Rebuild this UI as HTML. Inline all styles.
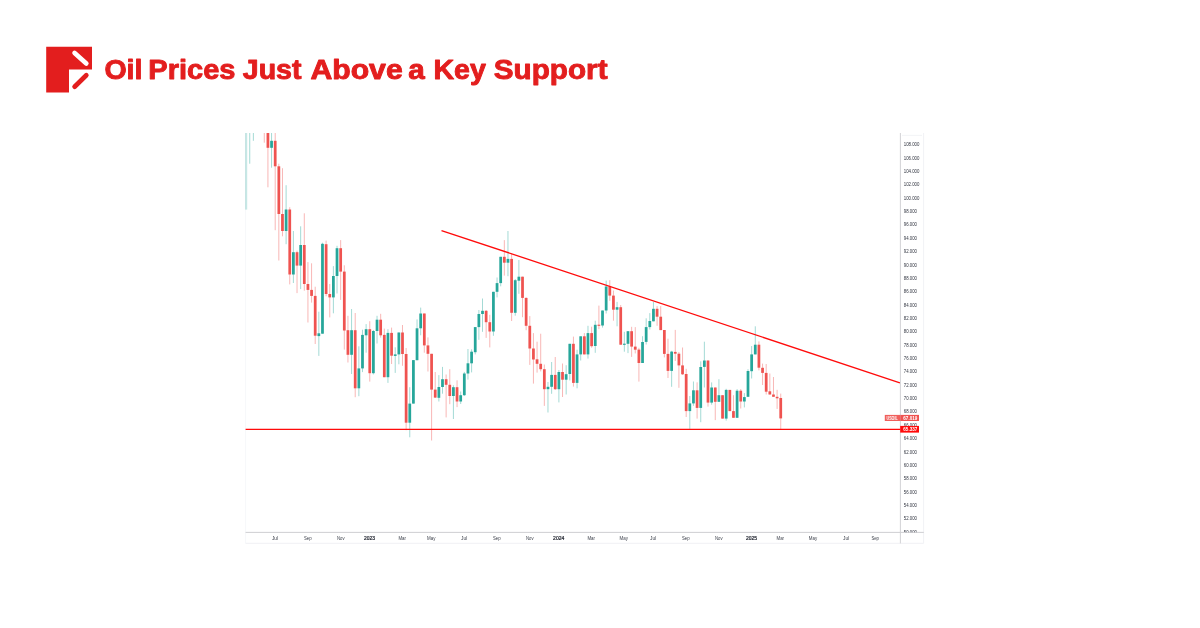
<!DOCTYPE html>
<html lang="en">
<head>
<meta charset="utf-8">
<title>Oil Prices Just Above a Key Support</title>
<style>
html,body{margin:0;padding:0;background:#fff;}
body{width:1200px;height:628px;overflow:hidden;position:relative;font-family:"Liberation Sans",sans-serif;}
svg{position:absolute;left:0;top:0;display:block;will-change:transform;}
text{-webkit-font-smoothing:antialiased;}
</style>
</head>
<body>
<svg width="1200" height="628" viewBox="0 0 1200 628">
<rect width="1200" height="628" fill="#ffffff"/>
<!-- logo -->
<g id="logo">
<path d="M46.2 46.7H92V69.6H69V92.4H46.2Z" fill="#e31e1e"/>
<line x1="74.6" y1="52.9" x2="86.3" y2="63.4" stroke="#ffffff" stroke-width="4.7" stroke-linecap="round"/>
<line x1="74.6" y1="86.7" x2="86.3" y2="75.2" stroke="#e31e1e" stroke-width="4.7" stroke-linecap="round"/>
</g>
<!-- title -->
<g id="title" font-family="'Liberation Sans',sans-serif" font-weight="700" font-size="27.3" fill="#e31e1e" stroke="#e31e1e" stroke-width="0.9" stroke-linejoin="round">
<text x="104.4" y="78.95" textLength="38.06" lengthAdjust="spacingAndGlyphs">Oil</text>
<text x="148.3" y="78.95" textLength="87.19" lengthAdjust="spacingAndGlyphs">Prices</text>
<text x="242.76" y="78.95" textLength="58.74" lengthAdjust="spacingAndGlyphs">Just</text>
<text x="310.4" y="78.95" textLength="92.35" lengthAdjust="spacingAndGlyphs">Above</text>
<text x="408.18" y="78.95" textLength="16.51" lengthAdjust="spacingAndGlyphs">a</text>
<text x="433.4" y="78.95" textLength="52.45" lengthAdjust="spacingAndGlyphs">Key</text>
<text x="493.82" y="78.95" textLength="113.74" lengthAdjust="spacingAndGlyphs">Support</text>
</g>
<!-- chart frame -->
<g id="frame" fill="none">
<line x1="245.6" y1="133" x2="245.6" y2="543.4" stroke="#f4f5f7" stroke-width="0.8"/>
<line x1="245.6" y1="543.3" x2="923.6" y2="543.3" stroke="#f0f1f4" stroke-width="1"/>
<line x1="923.6" y1="133" x2="923.6" y2="543.4" stroke="#f1f2f5" stroke-width="1"/>
<line x1="902" y1="135.4" x2="922" y2="135.4" stroke="#f0f1f4" stroke-width="0.8"/>
<line x1="245.6" y1="532.4" x2="923.8" y2="532.4" stroke="#c9c9cd" stroke-width="0.9"/>
<line x1="900.4" y1="133" x2="900.4" y2="543.4" stroke="#cdcdd0" stroke-width="0.9"/>
</g>
<!-- candles -->
<g id="candles">
<rect x="245.1" y="133" width="2.1" height="76.6" fill="#26a69a" opacity="0.26"/>
<rect x="249.24" y="133" width="1.0" height="30.7" fill="#26a69a" opacity="0.42"/>
<rect x="252.87" y="133" width="1.0" height="7.8" fill="#26a69a" opacity="0.42"/>
<rect x="263.78" y="133" width="1.0" height="9.7" fill="#ef5350" opacity="0.42"/>
<rect x="267.42" y="133.0" width="1.0" height="54.3" fill="#ef5350" opacity="0.42"/>
<rect x="266.55" y="133.0" width="2.75" height="14.8" fill="#ef5350"/>
<rect x="271.06" y="133.0" width="1.0" height="34.7" fill="#26a69a" opacity="0.42"/>
<rect x="270.18" y="140.8" width="2.75" height="7.0" fill="#26a69a"/>
<rect x="274.70" y="133.0" width="1.0" height="97.2" fill="#ef5350" opacity="0.42"/>
<rect x="273.82" y="140.8" width="2.75" height="25.5" fill="#ef5350"/>
<rect x="278.33" y="163.7" width="1.0" height="96.8" fill="#ef5350" opacity="0.42"/>
<rect x="277.46" y="166.3" width="2.75" height="47.7" fill="#ef5350"/>
<rect x="281.97" y="168.2" width="1.0" height="68.1" fill="#ef5350" opacity="0.42"/>
<rect x="281.09" y="214.0" width="2.75" height="17.0" fill="#ef5350"/>
<rect x="285.61" y="185.2" width="1.0" height="59.0" fill="#26a69a" opacity="0.42"/>
<rect x="284.73" y="209.5" width="2.75" height="21.5" fill="#26a69a"/>
<rect x="289.24" y="207.2" width="1.0" height="77.2" fill="#ef5350" opacity="0.42"/>
<rect x="288.37" y="209.5" width="2.75" height="65.0" fill="#ef5350"/>
<rect x="292.88" y="231.0" width="1.0" height="52.0" fill="#26a69a" opacity="0.42"/>
<rect x="292.01" y="252.2" width="2.75" height="22.3" fill="#26a69a"/>
<rect x="296.52" y="250.6" width="1.0" height="42.5" fill="#ef5350" opacity="0.42"/>
<rect x="295.64" y="252.2" width="2.75" height="13.4" fill="#ef5350"/>
<rect x="300.15" y="226.3" width="1.0" height="62.8" fill="#26a69a" opacity="0.42"/>
<rect x="299.28" y="245.0" width="2.75" height="20.6" fill="#26a69a"/>
<rect x="303.79" y="213.3" width="1.0" height="77.4" fill="#ef5350" opacity="0.42"/>
<rect x="302.92" y="245.0" width="2.75" height="39.0" fill="#ef5350"/>
<rect x="307.43" y="262.1" width="1.0" height="60.4" fill="#ef5350" opacity="0.42"/>
<rect x="306.55" y="284.0" width="2.75" height="5.9" fill="#ef5350"/>
<rect x="311.07" y="263.3" width="1.0" height="39.3" fill="#ef5350" opacity="0.42"/>
<rect x="310.19" y="289.9" width="2.75" height="6.0" fill="#ef5350"/>
<rect x="314.70" y="286.7" width="1.0" height="57.3" fill="#ef5350" opacity="0.42"/>
<rect x="313.83" y="295.9" width="2.75" height="39.8" fill="#ef5350"/>
<rect x="318.34" y="311.7" width="1.0" height="44.2" fill="#26a69a" opacity="0.42"/>
<rect x="317.46" y="333.3" width="2.75" height="2.8" fill="#26a69a"/>
<rect x="321.98" y="242.7" width="1.0" height="91.0" fill="#26a69a" opacity="0.42"/>
<rect x="321.10" y="243.8" width="2.75" height="89.9" fill="#26a69a"/>
<rect x="325.61" y="240.6" width="1.0" height="55.7" fill="#ef5350" opacity="0.42"/>
<rect x="324.74" y="244.2" width="2.75" height="49.8" fill="#ef5350"/>
<rect x="329.25" y="284.0" width="1.0" height="33.4" fill="#ef5350" opacity="0.42"/>
<rect x="328.38" y="294.0" width="2.75" height="3.4" fill="#ef5350"/>
<rect x="332.89" y="266.1" width="1.0" height="47.2" fill="#26a69a" opacity="0.42"/>
<rect x="332.01" y="276.0" width="2.75" height="21.4" fill="#26a69a"/>
<rect x="336.52" y="245.8" width="1.0" height="47.7" fill="#26a69a" opacity="0.42"/>
<rect x="335.65" y="248.2" width="2.75" height="27.8" fill="#26a69a"/>
<rect x="340.16" y="240.1" width="1.0" height="59.8" fill="#ef5350" opacity="0.42"/>
<rect x="339.29" y="248.2" width="2.75" height="23.4" fill="#ef5350"/>
<rect x="343.80" y="265.3" width="1.0" height="84.3" fill="#ef5350" opacity="0.42"/>
<rect x="342.92" y="271.6" width="2.75" height="58.9" fill="#ef5350"/>
<rect x="347.44" y="315.8" width="1.0" height="46.7" fill="#ef5350" opacity="0.42"/>
<rect x="346.56" y="330.2" width="2.75" height="24.6" fill="#ef5350"/>
<rect x="351.07" y="309.0" width="1.0" height="65.0" fill="#26a69a" opacity="0.42"/>
<rect x="350.20" y="330.2" width="2.75" height="24.6" fill="#26a69a"/>
<rect x="354.71" y="313.0" width="1.0" height="84.2" fill="#ef5350" opacity="0.42"/>
<rect x="353.83" y="330.2" width="2.75" height="58.1" fill="#ef5350"/>
<rect x="358.35" y="346.3" width="1.0" height="49.9" fill="#26a69a" opacity="0.42"/>
<rect x="357.47" y="368.4" width="2.75" height="19.9" fill="#26a69a"/>
<rect x="361.98" y="329.7" width="1.0" height="42.4" fill="#26a69a" opacity="0.42"/>
<rect x="361.11" y="334.9" width="2.75" height="33.5" fill="#26a69a"/>
<rect x="365.62" y="324.1" width="1.0" height="28.6" fill="#26a69a" opacity="0.42"/>
<rect x="364.75" y="329.2" width="2.75" height="6.1" fill="#26a69a"/>
<rect x="369.26" y="321.2" width="1.0" height="60.4" fill="#ef5350" opacity="0.42"/>
<rect x="368.38" y="329.2" width="2.75" height="44.0" fill="#ef5350"/>
<rect x="372.89" y="330.0" width="1.0" height="44.4" fill="#26a69a" opacity="0.42"/>
<rect x="372.02" y="331.0" width="2.75" height="42.2" fill="#26a69a"/>
<rect x="376.53" y="315.8" width="1.0" height="27.7" fill="#26a69a" opacity="0.42"/>
<rect x="375.66" y="319.7" width="2.75" height="11.3" fill="#26a69a"/>
<rect x="380.17" y="313.8" width="1.0" height="23.8" fill="#ef5350" opacity="0.42"/>
<rect x="379.29" y="319.7" width="2.75" height="15.6" fill="#ef5350"/>
<rect x="383.81" y="328.6" width="1.0" height="48.6" fill="#ef5350" opacity="0.42"/>
<rect x="382.93" y="334.9" width="2.75" height="42.3" fill="#ef5350"/>
<rect x="387.44" y="329.2" width="1.0" height="53.7" fill="#26a69a" opacity="0.42"/>
<rect x="386.57" y="332.9" width="2.75" height="44.3" fill="#26a69a"/>
<rect x="391.08" y="327.6" width="1.0" height="36.4" fill="#ef5350" opacity="0.42"/>
<rect x="390.20" y="332.9" width="2.75" height="22.8" fill="#ef5350"/>
<rect x="394.72" y="347.3" width="1.0" height="25.6" fill="#26a69a" opacity="0.42"/>
<rect x="393.84" y="354.4" width="2.75" height="1.5" fill="#26a69a"/>
<rect x="398.35" y="332.5" width="1.0" height="31.8" fill="#26a69a" opacity="0.42"/>
<rect x="397.48" y="332.5" width="2.75" height="21.9" fill="#26a69a"/>
<rect x="401.99" y="325.0" width="1.0" height="40.8" fill="#ef5350" opacity="0.42"/>
<rect x="401.12" y="332.5" width="2.75" height="21.5" fill="#ef5350"/>
<rect x="405.63" y="348.0" width="1.0" height="82.2" fill="#ef5350" opacity="0.42"/>
<rect x="404.75" y="354.0" width="2.75" height="68.7" fill="#ef5350"/>
<rect x="409.26" y="387.2" width="1.0" height="50.1" fill="#26a69a" opacity="0.42"/>
<rect x="408.39" y="403.6" width="2.75" height="19.1" fill="#26a69a"/>
<rect x="412.90" y="360.1" width="1.0" height="43.5" fill="#26a69a" opacity="0.42"/>
<rect x="412.03" y="360.1" width="2.75" height="43.5" fill="#26a69a"/>
<rect x="416.54" y="319.4" width="1.0" height="40.8" fill="#26a69a" opacity="0.42"/>
<rect x="415.66" y="328.3" width="2.75" height="31.9" fill="#26a69a"/>
<rect x="420.18" y="307.6" width="1.0" height="27.7" fill="#26a69a" opacity="0.42"/>
<rect x="419.30" y="313.5" width="2.75" height="14.8" fill="#26a69a"/>
<rect x="423.81" y="313.5" width="1.0" height="39.2" fill="#ef5350" opacity="0.42"/>
<rect x="422.94" y="313.5" width="2.75" height="31.9" fill="#ef5350"/>
<rect x="427.45" y="337.4" width="1.0" height="34.1" fill="#ef5350" opacity="0.42"/>
<rect x="426.57" y="345.4" width="2.75" height="8.4" fill="#ef5350"/>
<rect x="431.09" y="353.8" width="1.0" height="86.7" fill="#ef5350" opacity="0.42"/>
<rect x="430.21" y="353.8" width="2.75" height="35.8" fill="#ef5350"/>
<rect x="434.72" y="372.0" width="1.0" height="26.0" fill="#ef5350" opacity="0.42"/>
<rect x="433.85" y="389.6" width="2.75" height="8.0" fill="#ef5350"/>
<rect x="438.36" y="375.1" width="1.0" height="26.4" fill="#26a69a" opacity="0.42"/>
<rect x="437.49" y="387.0" width="2.75" height="10.8" fill="#26a69a"/>
<rect x="442.00" y="366.9" width="1.0" height="26.8" fill="#26a69a" opacity="0.42"/>
<rect x="441.12" y="379.2" width="2.75" height="7.8" fill="#26a69a"/>
<rect x="445.63" y="374.5" width="1.0" height="42.9" fill="#ef5350" opacity="0.42"/>
<rect x="444.76" y="379.2" width="2.75" height="5.6" fill="#ef5350"/>
<rect x="449.27" y="369.2" width="1.0" height="35.0" fill="#ef5350" opacity="0.42"/>
<rect x="448.40" y="384.8" width="2.75" height="11.2" fill="#ef5350"/>
<rect x="452.91" y="385.3" width="1.0" height="33.7" fill="#26a69a" opacity="0.42"/>
<rect x="452.03" y="387.2" width="2.75" height="8.8" fill="#26a69a"/>
<rect x="456.55" y="380.3" width="1.0" height="26.8" fill="#ef5350" opacity="0.42"/>
<rect x="455.67" y="387.2" width="2.75" height="14.3" fill="#ef5350"/>
<rect x="460.18" y="391.5" width="1.0" height="12.5" fill="#26a69a" opacity="0.42"/>
<rect x="459.31" y="395.2" width="2.75" height="6.3" fill="#26a69a"/>
<rect x="463.82" y="371.9" width="1.0" height="24.1" fill="#26a69a" opacity="0.42"/>
<rect x="462.94" y="373.5" width="2.75" height="21.7" fill="#26a69a"/>
<rect x="467.46" y="349.0" width="1.0" height="30.6" fill="#26a69a" opacity="0.42"/>
<rect x="466.58" y="363.3" width="2.75" height="10.2" fill="#26a69a"/>
<rect x="471.09" y="349.3" width="1.0" height="23.1" fill="#26a69a" opacity="0.42"/>
<rect x="470.22" y="351.7" width="2.75" height="11.6" fill="#26a69a"/>
<rect x="474.73" y="327.1" width="1.0" height="27.3" fill="#26a69a" opacity="0.42"/>
<rect x="473.86" y="327.1" width="2.75" height="25.1" fill="#26a69a"/>
<rect x="478.37" y="310.0" width="1.0" height="29.8" fill="#26a69a" opacity="0.42"/>
<rect x="477.49" y="314.0" width="2.75" height="13.1" fill="#26a69a"/>
<rect x="482.00" y="298.5" width="1.0" height="33.3" fill="#26a69a" opacity="0.42"/>
<rect x="481.13" y="310.8" width="2.75" height="3.2" fill="#26a69a"/>
<rect x="485.64" y="310.0" width="1.0" height="27.9" fill="#ef5350" opacity="0.42"/>
<rect x="484.77" y="310.8" width="2.75" height="11.4" fill="#ef5350"/>
<rect x="489.28" y="314.8" width="1.0" height="32.6" fill="#ef5350" opacity="0.42"/>
<rect x="488.40" y="322.2" width="2.75" height="9.3" fill="#ef5350"/>
<rect x="492.92" y="291.8" width="1.0" height="44.0" fill="#26a69a" opacity="0.42"/>
<rect x="492.04" y="291.8" width="2.75" height="39.7" fill="#26a69a"/>
<rect x="496.55" y="277.5" width="1.0" height="19.9" fill="#26a69a" opacity="0.42"/>
<rect x="495.68" y="283.1" width="2.75" height="8.7" fill="#26a69a"/>
<rect x="500.19" y="256.8" width="1.0" height="29.5" fill="#26a69a" opacity="0.42"/>
<rect x="499.31" y="256.8" width="2.75" height="26.3" fill="#26a69a"/>
<rect x="503.83" y="240.1" width="1.0" height="35.5" fill="#ef5350" opacity="0.42"/>
<rect x="502.95" y="256.8" width="2.75" height="5.9" fill="#ef5350"/>
<rect x="507.46" y="231.0" width="1.0" height="45.2" fill="#26a69a" opacity="0.42"/>
<rect x="506.59" y="258.9" width="2.75" height="3.8" fill="#26a69a"/>
<rect x="511.10" y="253.3" width="1.0" height="67.7" fill="#ef5350" opacity="0.42"/>
<rect x="510.23" y="258.9" width="2.75" height="53.9" fill="#ef5350"/>
<rect x="514.74" y="279.0" width="1.0" height="36.7" fill="#26a69a" opacity="0.42"/>
<rect x="513.86" y="280.2" width="2.75" height="32.6" fill="#26a69a"/>
<rect x="518.38" y="260.0" width="1.0" height="33.8" fill="#26a69a" opacity="0.42"/>
<rect x="517.50" y="276.7" width="2.75" height="4.0" fill="#26a69a"/>
<rect x="522.01" y="276.7" width="1.0" height="40.5" fill="#ef5350" opacity="0.42"/>
<rect x="521.14" y="276.7" width="2.75" height="21.2" fill="#ef5350"/>
<rect x="525.65" y="297.4" width="1.0" height="32.8" fill="#ef5350" opacity="0.42"/>
<rect x="524.77" y="297.9" width="2.75" height="27.9" fill="#ef5350"/>
<rect x="529.29" y="316.1" width="1.0" height="48.8" fill="#ef5350" opacity="0.42"/>
<rect x="528.41" y="325.8" width="2.75" height="22.7" fill="#ef5350"/>
<rect x="532.92" y="333.1" width="1.0" height="50.5" fill="#ef5350" opacity="0.42"/>
<rect x="532.05" y="348.5" width="2.75" height="11.0" fill="#ef5350"/>
<rect x="536.56" y="341.7" width="1.0" height="30.9" fill="#ef5350" opacity="0.42"/>
<rect x="535.68" y="359.3" width="2.75" height="4.5" fill="#ef5350"/>
<rect x="540.20" y="333.7" width="1.0" height="37.7" fill="#ef5350" opacity="0.42"/>
<rect x="539.32" y="363.8" width="2.75" height="5.4" fill="#ef5350"/>
<rect x="543.83" y="364.5" width="1.0" height="41.4" fill="#ef5350" opacity="0.42"/>
<rect x="542.96" y="369.2" width="2.75" height="20.0" fill="#ef5350"/>
<rect x="547.47" y="382.0" width="1.0" height="30.5" fill="#26a69a" opacity="0.42"/>
<rect x="546.60" y="386.8" width="2.75" height="2.4" fill="#26a69a"/>
<rect x="551.11" y="362.0" width="1.0" height="31.8" fill="#26a69a" opacity="0.42"/>
<rect x="550.23" y="374.9" width="2.75" height="11.9" fill="#26a69a"/>
<rect x="554.75" y="357.0" width="1.0" height="33.0" fill="#ef5350" opacity="0.42"/>
<rect x="553.87" y="374.9" width="2.75" height="14.3" fill="#ef5350"/>
<rect x="558.38" y="370.0" width="1.0" height="32.4" fill="#26a69a" opacity="0.42"/>
<rect x="557.51" y="372.0" width="2.75" height="17.2" fill="#26a69a"/>
<rect x="562.02" y="363.5" width="1.0" height="33.5" fill="#ef5350" opacity="0.42"/>
<rect x="561.14" y="372.0" width="2.75" height="7.7" fill="#ef5350"/>
<rect x="565.66" y="365.2" width="1.0" height="29.3" fill="#26a69a" opacity="0.42"/>
<rect x="564.78" y="374.2" width="2.75" height="5.5" fill="#26a69a"/>
<rect x="569.29" y="343.8" width="1.0" height="36.6" fill="#26a69a" opacity="0.42"/>
<rect x="568.42" y="343.8" width="2.75" height="30.2" fill="#26a69a"/>
<rect x="572.93" y="336.6" width="1.0" height="50.0" fill="#ef5350" opacity="0.42"/>
<rect x="572.05" y="343.8" width="2.75" height="39.1" fill="#ef5350"/>
<rect x="576.57" y="349.7" width="1.0" height="38.6" fill="#26a69a" opacity="0.42"/>
<rect x="575.69" y="354.4" width="2.75" height="28.5" fill="#26a69a"/>
<rect x="580.20" y="336.3" width="1.0" height="24.2" fill="#26a69a" opacity="0.42"/>
<rect x="579.33" y="336.3" width="2.75" height="18.1" fill="#26a69a"/>
<rect x="583.84" y="333.1" width="1.0" height="21.3" fill="#ef5350" opacity="0.42"/>
<rect x="582.97" y="336.3" width="2.75" height="18.1" fill="#ef5350"/>
<rect x="587.48" y="325.8" width="1.0" height="32.8" fill="#26a69a" opacity="0.42"/>
<rect x="586.60" y="333.1" width="2.75" height="21.3" fill="#26a69a"/>
<rect x="591.12" y="326.7" width="1.0" height="21.0" fill="#ef5350" opacity="0.42"/>
<rect x="590.24" y="333.1" width="2.75" height="13.1" fill="#ef5350"/>
<rect x="594.75" y="320.7" width="1.0" height="32.1" fill="#26a69a" opacity="0.42"/>
<rect x="593.88" y="324.8" width="2.75" height="21.2" fill="#26a69a"/>
<rect x="598.39" y="305.6" width="1.0" height="23.6" fill="#ef5350" opacity="0.42"/>
<rect x="597.51" y="324.7" width="2.75" height="1.1" fill="#ef5350"/>
<rect x="602.03" y="310.5" width="1.0" height="17.1" fill="#26a69a" opacity="0.42"/>
<rect x="601.15" y="310.5" width="2.75" height="15.0" fill="#26a69a"/>
<rect x="605.66" y="280.6" width="1.0" height="32.9" fill="#26a69a" opacity="0.42"/>
<rect x="604.79" y="286.5" width="2.75" height="24.0" fill="#26a69a"/>
<rect x="609.30" y="280.1" width="1.0" height="20.7" fill="#ef5350" opacity="0.42"/>
<rect x="608.42" y="286.5" width="2.75" height="9.1" fill="#ef5350"/>
<rect x="612.94" y="290.5" width="1.0" height="30.2" fill="#ef5350" opacity="0.42"/>
<rect x="612.06" y="295.6" width="2.75" height="14.1" fill="#ef5350"/>
<rect x="616.57" y="301.9" width="1.0" height="24.4" fill="#26a69a" opacity="0.42"/>
<rect x="615.70" y="307.2" width="2.75" height="2.5" fill="#26a69a"/>
<rect x="620.21" y="305.0" width="1.0" height="39.7" fill="#ef5350" opacity="0.42"/>
<rect x="619.34" y="307.2" width="2.75" height="37.5" fill="#ef5350"/>
<rect x="623.85" y="331.8" width="1.0" height="19.9" fill="#26a69a" opacity="0.42"/>
<rect x="622.97" y="343.7" width="2.75" height="1.1" fill="#26a69a"/>
<rect x="627.49" y="331.2" width="1.0" height="21.9" fill="#26a69a" opacity="0.42"/>
<rect x="626.61" y="331.2" width="2.75" height="12.6" fill="#26a69a"/>
<rect x="631.12" y="326.8" width="1.0" height="30.1" fill="#ef5350" opacity="0.42"/>
<rect x="630.25" y="331.2" width="2.75" height="15.4" fill="#ef5350"/>
<rect x="634.76" y="327.1" width="1.0" height="26.3" fill="#ef5350" opacity="0.42"/>
<rect x="633.88" y="346.6" width="2.75" height="3.1" fill="#ef5350"/>
<rect x="638.40" y="347.8" width="1.0" height="33.8" fill="#ef5350" opacity="0.42"/>
<rect x="637.52" y="349.6" width="2.75" height="13.4" fill="#ef5350"/>
<rect x="642.03" y="336.2" width="1.0" height="26.8" fill="#26a69a" opacity="0.42"/>
<rect x="641.16" y="342.0" width="2.75" height="21.0" fill="#26a69a"/>
<rect x="645.67" y="318.3" width="1.0" height="26.2" fill="#26a69a" opacity="0.42"/>
<rect x="644.79" y="327.1" width="2.75" height="14.8" fill="#26a69a"/>
<rect x="649.31" y="313.1" width="1.0" height="16.4" fill="#26a69a" opacity="0.42"/>
<rect x="648.43" y="321.0" width="2.75" height="6.1" fill="#26a69a"/>
<rect x="652.94" y="301.9" width="1.0" height="19.4" fill="#26a69a" opacity="0.42"/>
<rect x="652.07" y="308.8" width="2.75" height="12.5" fill="#26a69a"/>
<rect x="656.58" y="306.1" width="1.0" height="19.7" fill="#ef5350" opacity="0.42"/>
<rect x="655.71" y="308.8" width="2.75" height="7.9" fill="#ef5350"/>
<rect x="660.22" y="306.1" width="1.0" height="24.0" fill="#ef5350" opacity="0.42"/>
<rect x="659.34" y="316.7" width="2.75" height="13.4" fill="#ef5350"/>
<rect x="663.86" y="330.0" width="1.0" height="27.4" fill="#ef5350" opacity="0.42"/>
<rect x="662.98" y="330.0" width="2.75" height="23.9" fill="#ef5350"/>
<rect x="667.49" y="338.7" width="1.0" height="39.3" fill="#ef5350" opacity="0.42"/>
<rect x="666.62" y="353.9" width="2.75" height="17.0" fill="#ef5350"/>
<rect x="671.13" y="350.8" width="1.0" height="36.0" fill="#26a69a" opacity="0.42"/>
<rect x="670.25" y="351.6" width="2.75" height="19.3" fill="#26a69a"/>
<rect x="674.77" y="329.9" width="1.0" height="31.1" fill="#ef5350" opacity="0.42"/>
<rect x="673.89" y="351.9" width="2.75" height="1.8" fill="#ef5350"/>
<rect x="678.40" y="352.0" width="1.0" height="35.8" fill="#ef5350" opacity="0.42"/>
<rect x="677.53" y="353.7" width="2.75" height="11.7" fill="#ef5350"/>
<rect x="682.04" y="347.5" width="1.0" height="27.5" fill="#ef5350" opacity="0.42"/>
<rect x="681.16" y="365.4" width="2.75" height="8.9" fill="#ef5350"/>
<rect x="685.68" y="368.8" width="1.0" height="48.2" fill="#ef5350" opacity="0.42"/>
<rect x="684.80" y="374.0" width="2.75" height="37.1" fill="#ef5350"/>
<rect x="689.31" y="396.0" width="1.0" height="32.9" fill="#26a69a" opacity="0.42"/>
<rect x="688.44" y="403.4" width="2.75" height="7.7" fill="#26a69a"/>
<rect x="692.95" y="381.5" width="1.0" height="24.3" fill="#26a69a" opacity="0.42"/>
<rect x="692.08" y="390.3" width="2.75" height="13.1" fill="#26a69a"/>
<rect x="696.59" y="382.3" width="1.0" height="36.3" fill="#ef5350" opacity="0.42"/>
<rect x="695.71" y="390.3" width="2.75" height="17.6" fill="#ef5350"/>
<rect x="700.23" y="361.3" width="1.0" height="60.9" fill="#26a69a" opacity="0.42"/>
<rect x="699.35" y="367.0" width="2.75" height="40.9" fill="#26a69a"/>
<rect x="703.86" y="341.7" width="1.0" height="45.8" fill="#26a69a" opacity="0.42"/>
<rect x="702.99" y="360.5" width="2.75" height="6.4" fill="#26a69a"/>
<rect x="707.50" y="360.5" width="1.0" height="46.1" fill="#ef5350" opacity="0.42"/>
<rect x="706.62" y="360.5" width="2.75" height="42.1" fill="#ef5350"/>
<rect x="711.14" y="382.4" width="1.0" height="22.3" fill="#26a69a" opacity="0.42"/>
<rect x="710.26" y="387.5" width="2.75" height="15.1" fill="#26a69a"/>
<rect x="714.77" y="387.5" width="1.0" height="32.6" fill="#ef5350" opacity="0.42"/>
<rect x="713.90" y="387.5" width="2.75" height="14.3" fill="#ef5350"/>
<rect x="718.41" y="379.2" width="1.0" height="22.6" fill="#26a69a" opacity="0.42"/>
<rect x="717.53" y="395.2" width="2.75" height="6.6" fill="#26a69a"/>
<rect x="722.05" y="395.2" width="1.0" height="23.4" fill="#ef5350" opacity="0.42"/>
<rect x="721.17" y="395.2" width="2.75" height="23.4" fill="#ef5350"/>
<rect x="725.68" y="388.8" width="1.0" height="31.8" fill="#26a69a" opacity="0.42"/>
<rect x="724.81" y="389.9" width="2.75" height="28.7" fill="#26a69a"/>
<rect x="729.32" y="389.9" width="1.0" height="21.2" fill="#ef5350" opacity="0.42"/>
<rect x="728.45" y="389.9" width="2.75" height="21.2" fill="#ef5350"/>
<rect x="732.96" y="395.2" width="1.0" height="22.6" fill="#ef5350" opacity="0.42"/>
<rect x="732.08" y="411.1" width="2.75" height="6.7" fill="#ef5350"/>
<rect x="736.60" y="389.1" width="1.0" height="28.7" fill="#26a69a" opacity="0.42"/>
<rect x="735.72" y="390.7" width="2.75" height="27.1" fill="#26a69a"/>
<rect x="740.23" y="389.1" width="1.0" height="19.4" fill="#ef5350" opacity="0.42"/>
<rect x="739.36" y="390.7" width="2.75" height="10.8" fill="#ef5350"/>
<rect x="743.87" y="393.1" width="1.0" height="14.3" fill="#26a69a" opacity="0.42"/>
<rect x="742.99" y="397.1" width="2.75" height="4.4" fill="#26a69a"/>
<rect x="747.51" y="369.2" width="1.0" height="27.6" fill="#26a69a" opacity="0.42"/>
<rect x="746.63" y="371.0" width="2.75" height="25.8" fill="#26a69a"/>
<rect x="751.14" y="346.0" width="1.0" height="32.5" fill="#26a69a" opacity="0.42"/>
<rect x="750.27" y="354.4" width="2.75" height="16.8" fill="#26a69a"/>
<rect x="754.78" y="326.3" width="1.0" height="28.1" fill="#26a69a" opacity="0.42"/>
<rect x="753.90" y="344.7" width="2.75" height="9.7" fill="#26a69a"/>
<rect x="758.42" y="341.4" width="1.0" height="29.0" fill="#ef5350" opacity="0.42"/>
<rect x="757.54" y="344.7" width="2.75" height="23.0" fill="#ef5350"/>
<rect x="762.05" y="363.6" width="1.0" height="21.4" fill="#ef5350" opacity="0.42"/>
<rect x="761.18" y="367.8" width="2.75" height="5.1" fill="#ef5350"/>
<rect x="765.69" y="364.0" width="1.0" height="30.5" fill="#ef5350" opacity="0.42"/>
<rect x="764.82" y="372.9" width="2.75" height="18.8" fill="#ef5350"/>
<rect x="769.33" y="373.5" width="1.0" height="21.0" fill="#ef5350" opacity="0.42"/>
<rect x="768.45" y="391.3" width="2.75" height="3.2" fill="#ef5350"/>
<rect x="772.97" y="377.0" width="1.0" height="19.8" fill="#ef5350" opacity="0.42"/>
<rect x="772.09" y="394.5" width="2.75" height="2.3" fill="#ef5350"/>
<rect x="776.60" y="389.8" width="1.0" height="19.1" fill="#ef5350" opacity="0.42"/>
<rect x="775.73" y="396.8" width="2.75" height="1.5" fill="#ef5350"/>
<rect x="780.24" y="393.6" width="1.0" height="35.7" fill="#ef5350" opacity="0.42"/>
<rect x="779.36" y="398.0" width="2.75" height="20.4" fill="#ef5350"/>
</g>
<!-- drawn lines -->
<line x1="441.5" y1="230.53" x2="899.9" y2="382.83" stroke="#ff0a0a" stroke-width="1.3"/>
<line x1="245.6" y1="429.35" x2="900.2" y2="429.35" stroke="#ff0a0a" stroke-width="1.3"/>
<!-- price axis -->
<clipPath id="ycl"><rect x="900" y="133" width="24" height="399.3"/></clipPath>
<g id="yaxis" clip-path="url(#ycl)" font-family="'Liberation Sans',sans-serif" font-size="5.3" fill="#2f333e">
<text x="903.75" y="146.2" textLength="15.7" lengthAdjust="spacingAndGlyphs">108.000</text>
<text x="903.75" y="159.6" textLength="15.7" lengthAdjust="spacingAndGlyphs">106.000</text>
<text x="903.75" y="173.0" textLength="15.7" lengthAdjust="spacingAndGlyphs">104.000</text>
<text x="903.75" y="186.3" textLength="15.7" lengthAdjust="spacingAndGlyphs">102.000</text>
<text x="903.75" y="199.7" textLength="15.7" lengthAdjust="spacingAndGlyphs">100.000</text>
<text x="903.75" y="213.0" textLength="13.2" lengthAdjust="spacingAndGlyphs">98.000</text>
<text x="903.75" y="226.4" textLength="13.2" lengthAdjust="spacingAndGlyphs">96.000</text>
<text x="903.75" y="239.8" textLength="13.2" lengthAdjust="spacingAndGlyphs">94.000</text>
<text x="903.75" y="253.1" textLength="13.2" lengthAdjust="spacingAndGlyphs">92.000</text>
<text x="903.75" y="266.5" textLength="13.2" lengthAdjust="spacingAndGlyphs">90.000</text>
<text x="903.75" y="279.8" textLength="13.2" lengthAdjust="spacingAndGlyphs">88.000</text>
<text x="903.75" y="293.2" textLength="13.2" lengthAdjust="spacingAndGlyphs">86.000</text>
<text x="903.75" y="306.6" textLength="13.2" lengthAdjust="spacingAndGlyphs">84.000</text>
<text x="903.75" y="319.9" textLength="13.2" lengthAdjust="spacingAndGlyphs">82.000</text>
<text x="903.75" y="333.3" textLength="13.2" lengthAdjust="spacingAndGlyphs">80.000</text>
<text x="903.75" y="346.6" textLength="13.2" lengthAdjust="spacingAndGlyphs">78.000</text>
<text x="903.75" y="360.0" textLength="13.2" lengthAdjust="spacingAndGlyphs">76.000</text>
<text x="903.75" y="373.4" textLength="13.2" lengthAdjust="spacingAndGlyphs">74.000</text>
<text x="903.75" y="386.7" textLength="13.2" lengthAdjust="spacingAndGlyphs">72.000</text>
<text x="903.75" y="400.1" textLength="13.2" lengthAdjust="spacingAndGlyphs">70.000</text>
<text x="903.75" y="413.4" textLength="13.2" lengthAdjust="spacingAndGlyphs">68.000</text>
<text x="903.75" y="426.8" textLength="13.2" lengthAdjust="spacingAndGlyphs">66.000</text>
<text x="903.75" y="440.2" textLength="13.2" lengthAdjust="spacingAndGlyphs">64.000</text>
<text x="903.75" y="453.5" textLength="13.2" lengthAdjust="spacingAndGlyphs">62.000</text>
<text x="903.75" y="466.9" textLength="13.2" lengthAdjust="spacingAndGlyphs">60.000</text>
<text x="903.75" y="480.2" textLength="13.2" lengthAdjust="spacingAndGlyphs">58.000</text>
<text x="903.75" y="493.6" textLength="13.2" lengthAdjust="spacingAndGlyphs">56.000</text>
<text x="903.75" y="507.0" textLength="13.2" lengthAdjust="spacingAndGlyphs">54.000</text>
<text x="903.75" y="520.3" textLength="13.2" lengthAdjust="spacingAndGlyphs">52.000</text>
<text x="903.75" y="533.7" textLength="13.2" lengthAdjust="spacingAndGlyphs">50.000</text>
</g>
<g id="plabels" font-family="'Liberation Sans',sans-serif" font-size="4.9" font-weight="700" fill="#ffffff">
<rect x="884.8" y="414.9" width="15.6" height="6.1" fill="#ef5350" opacity="0.93"/>
<text x="886.5" y="420.0" textLength="11.2" lengthAdjust="spacingAndGlyphs">USOIL</text>
<rect x="900.4" y="414.9" width="18.6" height="6.1" fill="#ef5350"/>
<text x="903.3" y="420.1" textLength="14" lengthAdjust="spacingAndGlyphs">67.019</text>
<rect x="900.2" y="425.9" width="18.8" height="6.7" fill="#ff0a0a"/>
<text x="903.3" y="431.2" textLength="14" lengthAdjust="spacingAndGlyphs">65.337</text>
</g>
<!-- time axis -->
<g id="xaxis" font-family="'Liberation Sans',sans-serif" font-size="5" fill="#3a3e49">
<text x="271.9" y="539.8" textLength="6.2" lengthAdjust="spacingAndGlyphs">Jul</text>
<text x="304.0" y="539.8" textLength="7.6" lengthAdjust="spacingAndGlyphs">Sep</text>
<text x="337.0" y="539.8" textLength="7.6" lengthAdjust="spacingAndGlyphs">Nov</text>
<text x="364.0" y="539.8" textLength="11" lengthAdjust="spacingAndGlyphs" fill="#1e222d" stroke="#1e222d" stroke-width="0.22">2023</text>
<text x="398.4" y="539.8" textLength="7.6" lengthAdjust="spacingAndGlyphs">Mar</text>
<text x="427.1" y="539.8" textLength="8.4" lengthAdjust="spacingAndGlyphs">May</text>
<text x="461.1" y="539.8" textLength="6.2" lengthAdjust="spacingAndGlyphs">Jul</text>
<text x="493.0" y="539.8" textLength="7.6" lengthAdjust="spacingAndGlyphs">Sep</text>
<text x="526.0" y="539.8" textLength="7.6" lengthAdjust="spacingAndGlyphs">Nov</text>
<text x="553.1" y="539.8" textLength="11.2" lengthAdjust="spacingAndGlyphs" fill="#1e222d" stroke="#1e222d" stroke-width="0.22">2024</text>
<text x="587.4" y="539.8" textLength="7.6" lengthAdjust="spacingAndGlyphs">Mar</text>
<text x="619.6" y="539.8" textLength="8.4" lengthAdjust="spacingAndGlyphs">May</text>
<text x="650.1" y="539.8" textLength="6.2" lengthAdjust="spacingAndGlyphs">Jul</text>
<text x="682.0" y="539.8" textLength="7.6" lengthAdjust="spacingAndGlyphs">Sep</text>
<text x="715.0" y="539.8" textLength="7.6" lengthAdjust="spacingAndGlyphs">Nov</text>
<text x="746.0" y="539.8" textLength="11" lengthAdjust="spacingAndGlyphs" fill="#1e222d" stroke="#1e222d" stroke-width="0.22">2025</text>
<text x="776.5" y="539.8" textLength="7.6" lengthAdjust="spacingAndGlyphs">Mar</text>
<text x="808.8" y="539.8" textLength="8.4" lengthAdjust="spacingAndGlyphs">May</text>
<text x="843.1" y="539.8" textLength="6.2" lengthAdjust="spacingAndGlyphs">Jul</text>
<text x="871.4" y="539.8" textLength="7.6" lengthAdjust="spacingAndGlyphs">Sep</text>
</g>
</svg>
</body>
</html>
